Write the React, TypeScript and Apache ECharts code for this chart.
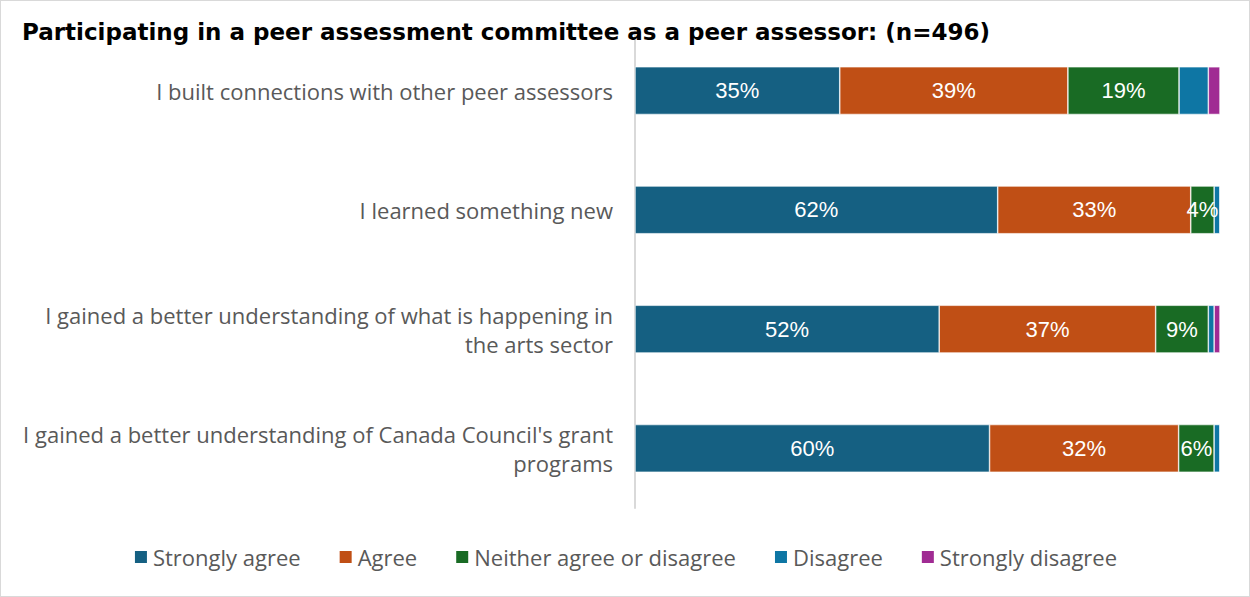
import React, { useEffect, useRef } from "react";
import * as echarts from "echarts";

const title = "Participating in a peer assessment committee as a peer assessor: (n=496)";

const statements = [
  "I built connections with other peer assessors",
  "I learned something new",
  "I gained a better understanding of what is happening in\nthe arts sector",
  "I gained a better understanding of Canada Council's grant\nprograms",
];

const responseLevels = [
  "Strongly agree",
  "Agree",
  "Neither agree or disagree",
  "Disagree",
  "Strongly disagree",
];

const levelColors = ["#156082", "#C04F15", "#196B24", "#0E76A4", "#A02B93"];

// Percent of respondents per statement, one array per response level
const stronglyAgree = [35, 62, 52, 60];
const agree = [39, 33, 37, 32];
const neither = [19, 4, 9, 6];
const disagree = [5, 1, 1, 1];
const stronglyDisagree = [2, 0, 1, 0];

const levelValues = [stronglyAgree, agree, neither, disagree, stronglyDisagree];

// labels are only shown on segments wide enough to hold them
const showLabel = [true, true, true, false, false];

const uiFont = "Open Sans, Noto Sans, sans-serif";

export default function App() {
  const ref = useRef<HTMLDivElement>(null);

  useEffect(() => {
    if (!ref.current) return;
    const chart = echarts.init(ref.current, undefined, { renderer: "svg" });

    // 100% stacked: each row is scaled to its own total
    const rowTotals = statements.map((_, i) =>
      levelValues.reduce((s, arr) => s + arr[i], 0)
    );

    const series = responseLevels.map((name, k) => ({
      name,
      type: "bar",
      stack: "total",
      barCategoryGap: "60%",
      itemStyle: { color: levelColors[k], borderColor: "#ffffff", borderWidth: 0.6 },
      label: {
        show: showLabel[k],
        position: "inside",
        color: "#ffffff",
        fontSize: 22,
        fontFamily: "Liberation Sans, Arial, sans-serif",
        formatter: (p: any) => `${levelValues[k][p.dataIndex]}%`,
      },
      data: levelValues[k].map((v, i) => (v / rowTotals[i]) * 100),
    }));

    chart.setOption({
      animation: false,
      title: {
        text: title,
        left: 21,
        top: 19,
        padding: 0,
        textStyle: {
          fontFamily: "DejaVu Sans, sans-serif",
          fontWeight: "bold",
          fontSize: 23,
          color: "#000000",
        },
      },
      legend: {
        bottom: 23,
        left: "center",
        itemWidth: 14,
        itemHeight: 14,
        itemGap: 37,
        icon: "rect",
        textStyle: {
          fontFamily: uiFont,
          fontSize: 22,
          color: "#595959",
        },
        data: responseLevels,
      },
      grid: { left: 634, right: 29, top: 30, height: 477, containLabel: false },
      xAxis: {
        type: "value",
        min: 0,
        max: 100,
        show: false,
      },
      yAxis: {
        type: "category",
        inverse: true,
        data: statements,
        axisLine: { show: true, lineStyle: { color: "#D9D9D9", width: 2 } },
        axisTick: { show: false },
        axisLabel: {
          margin: 22,
          align: "right",
          fontFamily: uiFont,
          fontSize: 22,
          lineHeight: 29,
          color: "#595959",
        },
      },
      series,
    });

    return () => chart.dispose();
  }, []);

  return (
    <div
      style={{
        position: "fixed",
        left: 0,
        top: 0,
        width: 1250,
        height: 597,
        boxSizing: "border-box",
        border: "1px solid #D9D9D9",
        background: "#ffffff",
      }}
    >
      <div ref={ref} style={{ width: 1248, height: 595 }} />
    </div>
  );
}
